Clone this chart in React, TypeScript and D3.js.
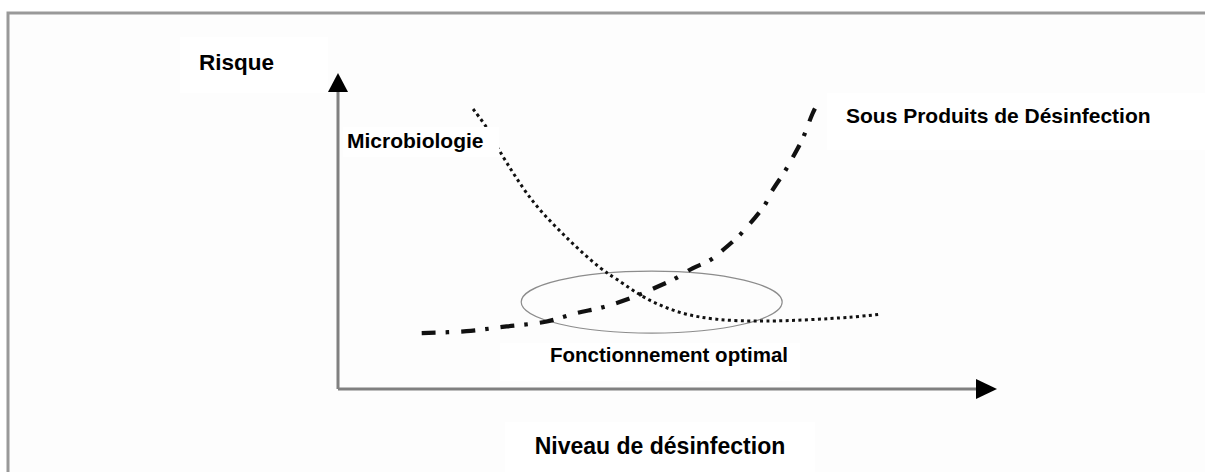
import React, { useEffect, useRef } from 'react';
import * as d3 from 'd3';

const W = 1205;
const H = 472;

// niveau de désinfection (x) and risque (y), both on an arbitrary 0-100 scale
const levelDomain = [0, 100];
const riskDomain = [0, 100];

// Microbiologie curve (dotted)
const microLevel = [20.5, 22.6, 24.5, 29.5, 34.7, 39.7, 42.3, 47.3, 52.3, 57.4, 65.0, 77.6, 82.4];
const microRisk = [88.6, 82.6, 75.4, 59.6, 47.9, 38.5, 34.7, 28.1, 24.0, 22.1, 21.5, 22.7, 23.7];

// Sous Produits de Désinfection curve (dash-dot)
const spdLevel = [12.7, 19.5, 25.6, 31.5, 36.2, 40.2, 44.7, 48.3, 51.2, 53.8, 56.4, 58.3, 60.9, 62.9, 64.7, 65.9, 67.7, 68.9, 70.5, 72.0, 72.9];
const spdRisk = [17.7, 18.3, 19.8, 21.3, 24.0, 25.9, 29.0, 32.2, 35.0, 38.2, 40.7, 43.8, 48.6, 53.3, 58.0, 62.8, 68.5, 72.9, 79.2, 87.1, 90.9];

// optimal zone ellipse: centre and half extents
const optimalCenter = [47.6, 27.5];
const optimalHalf = [19.8, 9.8];

const axisTitles = ['Niveau de désinfection', 'Risque'];
const curveNames = ['Microbiologie', 'Sous Produits de Désinfection'];
const zoneName = 'Fonctionnement optimal';

const font = '"Liberation Sans", Arial, sans-serif';

export default function App() {
  const ref = useRef<SVGSVGElement | null>(null);

  useEffect(() => {
    const svg = d3.select(ref.current);
    svg.selectAll('*').remove();

    const x = d3.scaleLinear().domain(levelDomain).range([338, 997]);
    const y = d3.scaleLinear().domain(riskDomain).range([389, 73]);

    // frame
    svg.append('rect').attr('x', 8).attr('y', 13).attr('width', W - 8).attr('height', H - 13).attr('fill', '#fdfdfd');
    svg.append('path')
      .attr('d', `M8,${H} L8,13 L${W},13`)
      .attr('fill', 'none').attr('stroke', '#999').attr('stroke-width', 3);

    // white label boxes
    const boxes = [[180, 37, 148, 56], [827, 93, 378, 57], [500, 343, 300, 38], [505, 422, 310, 50]];
    svg.selectAll('rect.box').data(boxes).enter().append('rect')
      .attr('class', 'box')
      .attr('x', d => d[0]).attr('y', d => d[1]).attr('width', d => d[2]).attr('height', d => d[3])
      .attr('fill', '#fff');

    // ellipse
    svg.append('ellipse')
      .attr('cx', x(optimalCenter[0])).attr('cy', y(optimalCenter[1]))
      .attr('rx', x(optimalHalf[0]) - x(0)).attr('ry', y(0) - y(optimalHalf[1]))
      .attr('fill', 'none').attr('stroke', '#8c8c8c').attr('stroke-width', 1.2);

    const microPts = microLevel.map((l, i) => [x(l), y(microRisk[i])] as [number, number]);
    const spdPts = spdLevel.map((l, i) => [x(l), y(spdRisk[i])] as [number, number]);

    svg.append('path')
      .attr('d', d3.line().curve(d3.curveCatmullRom.alpha(0.5))(microPts))
      .attr('fill', 'none').attr('stroke', '#111').attr('stroke-width', 3)
      .attr('stroke-dasharray', '3 3.4');

    svg.append('path')
      .attr('d', d3.line().curve(d3.curveCatmullRom.alpha(0.5))(spdPts))
      .attr('fill', 'none').attr('stroke', '#111').attr('stroke-width', 4.2)
      .attr('stroke-dasharray', '14 10 3.5 12');

    // box that hides part of the dotted line behind the label
    svg.append('rect').attr('x', 343).attr('y', 127).attr('width', 156).attr('height', 30).attr('fill', '#fff');

    // axes
    svg.append('line')
      .attr('x1', x(0)).attr('y1', y(0)).attr('x2', x(100) - 18).attr('y2', y(0))
      .attr('stroke', '#808080').attr('stroke-width', 3);
    svg.append('line')
      .attr('x1', x(0)).attr('y1', y(0)).attr('x2', x(0)).attr('y2', y(100) + 16)
      .attr('stroke', '#808080').attr('stroke-width', 3);

    const xt = x(100), yt = y(0);
    svg.append('path')
      .attr('d', `M${xt},${yt} L${xt - 21},${yt - 10} L${xt - 21},${yt + 10} Z`)
      .attr('fill', '#000');
    const xv = x(0), yv = y(100);
    svg.append('path')
      .attr('d', `M${xv},${yv} L${xv - 10},${yv + 19} L${xv + 10},${yv + 19} Z`)
      .attr('fill', '#000');

    // texts
    const texts: [string, number, number, number, string][] = [
      [axisTitles[1], 199, 70, 22.5, 'start'],
      [curveNames[0], 347, 148, 21, 'start'],
      [curveNames[1], 846, 123, 21, 'start'],
      [zoneName, 669, 362, 20.5, 'middle'],
      [axisTitles[0], 660, 454, 23, 'middle'],
    ];
    svg.selectAll('text.lbl').data(texts).enter().append('text')
      .attr('class', 'lbl')
      .attr('x', d => d[1]).attr('y', d => d[2])
      .attr('font-size', d => d[3])
      .attr('text-anchor', d => d[4])
      .attr('font-family', font).attr('font-weight', 'bold').attr('fill', '#000')
      .text(d => d[0]);
  }, []);

  return (
    <svg ref={ref} width={W} height={H}
      style={{ position: 'absolute', left: 0, top: 0, display: 'block', background: '#fff' }} />
  );
}
